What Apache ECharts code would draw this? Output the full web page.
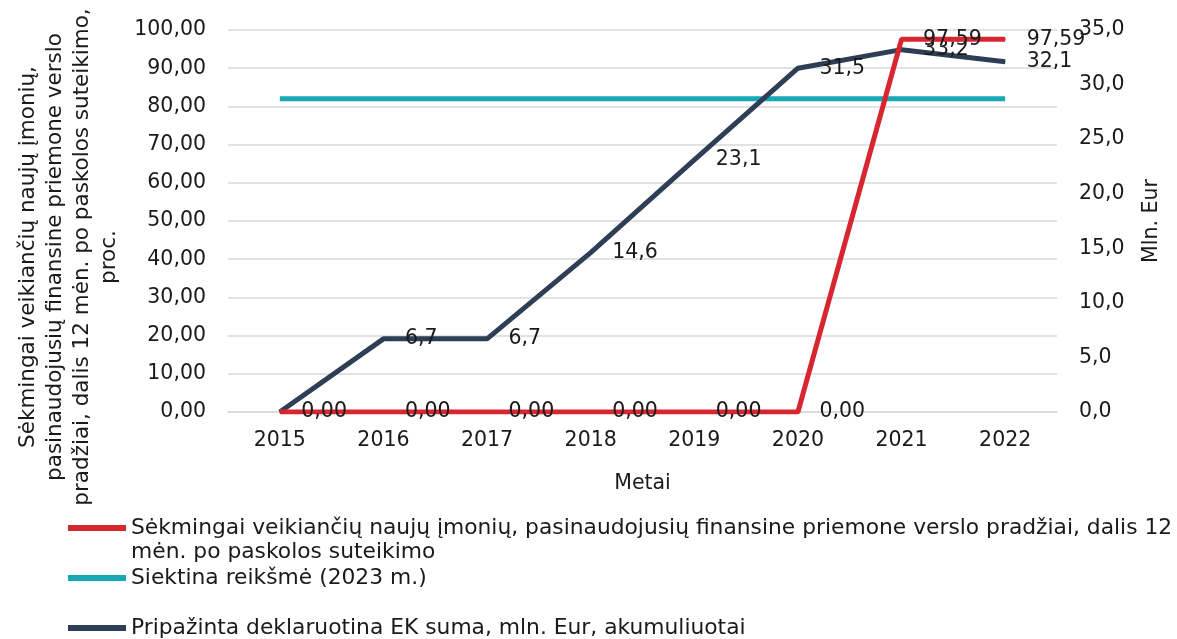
<!DOCTYPE html>
<html>
<head>
<meta charset="utf-8">
<script src="https://cdn.jsdelivr.net/npm/echarts@6/dist/echarts.min.js"></script>
<style>
html,body{margin:0;padding:0;background:#fff;}
#chart{width:1177px;height:639px;}
</style>
</head>
<body>
<div id="chart"></div>
<script>
const years = ['2015','2016','2017','2018','2019','2020','2021','2022'];
const sekmingai = [0, 0, 0, 0, 0, 0, 97.59, 97.59];
const siektina = [82, 82, 82, 82, 82, 82, 82, 82];
const pripazinta = [0, 6.7, 6.7, 14.6, 23.1, 31.5, 33.2, 32.1];

const nameRed = 'Sėkmingai veikiančių naujų įmonių, pasinaudojusių finansine priemone verslo pradžiai, dalis 12 mėn. po paskolos suteikimo';
const nameTeal = 'Siektina reikšmė (2023 m.)';
const nameDark = 'Pripažinta deklaruotina EK suma, mln. Eur, akumuliuotai';
const leftTitle = 'Sėkmingai veikiančių naujų įmonių,\npasinaudojusių finansine priemone verslo\npradžiai, dalis 12 mėn. po paskolos suteikimo,\nproc.';

const FONT = 'DejaVu Sans';
const TXT = '#1a1a1a';
const RED = '#d7262f', TEAL = '#17a8b3', DARK = '#2e3e56';
const FS = 20.5, FS_BIG = 21.5, FS_LEG = 21.8;

const comma = (v, d) => Number(v).toFixed(d).replace('.', ',');

const chart = echarts.init(document.getElementById('chart'));
const legendBase = {
  orient: 'vertical', left: 68, padding: 0,
  icon: 'rect', itemWidth: 58, itemHeight: 6,
  textStyle: {fontFamily: FONT, fontSize: FS_LEG, color: TXT, lineHeight: 24}
};
chart.setOption({
  animation: false,
  textStyle: {fontFamily: FONT},
  grid: {left: 228, right: 120, top: 30, bottom: 227, containLabel: false, outerBoundsMode: 'none'},
  legend: [
    Object.assign({}, legendBase, {top: 492, data: [nameRed],
      formatter: n => { const i = n.indexOf(' mėn.'); return ' \n' + n.slice(0, i) + '\n' + n.slice(i + 1); }}),
    Object.assign({}, legendBase, {top: 566, data: [nameTeal]}),
    Object.assign({}, legendBase, {top: 616, data: [nameDark]})
  ],
  xAxis: {
    type: 'category', data: years, boundaryGap: true,
    name: 'Metai', nameLocation: 'middle', nameGap: 61,
    nameTextStyle: {fontFamily: FONT, fontSize: FS, color: TXT},
    axisLine: {show: true, lineStyle: {color: '#d9d9d9', width: 1.5}},
    axisTick: {show: false},
    axisLabel: {margin: 18, fontFamily: FONT, fontSize: FS, color: TXT}
  },
  yAxis: [
    {
      type: 'value', min: 0, max: 100, interval: 10, position: 'left',
      name: leftTitle, nameLocation: 'middle', nameRotate: 90, nameGap: 105,
      nameTextStyle: {fontFamily: FONT, fontSize: FS_BIG, color: TXT, lineHeight: 27, align: 'center', padding: [0, 72, 0, 0]},
      axisLine: {show: false}, axisTick: {show: false},
      axisLabel: {margin: 22, fontFamily: FONT, fontSize: FS, color: TXT, formatter: v => comma(v, 2)},
      splitLine: {lineStyle: {color: '#d9d9d9', width: 1.5}}
    },
    {
      type: 'value', min: 0, max: 35, interval: 5, position: 'right',
      name: 'Mln. Eur', nameLocation: 'middle', nameRotate: 90, nameGap: 84,
      nameTextStyle: {fontFamily: FONT, fontSize: FS, color: TXT},
      axisLine: {show: false}, axisTick: {show: false},
      axisLabel: {margin: 22, fontFamily: FONT, fontSize: FS, color: TXT, formatter: v => comma(v, 1)},
      splitLine: {show: false}
    }
  ],
  series: [
    {
      name: nameRed, type: 'line', yAxisIndex: 0, data: sekmingai, z: 4,
      symbol: 'circle', symbolSize: 1, showSymbol: true,
      itemStyle: {color: RED},
      lineStyle: {color: RED, width: 5},
      label: {show: true, position: 'right', distance: 21, fontFamily: FONT, fontSize: FS, color: TXT,
        formatter: p => comma(p.value, 2)}
    },
    {
      name: nameTeal, type: 'line', yAxisIndex: 0, data: siektina, z: 2,
      symbol: 'none',
      itemStyle: {color: TEAL},
      lineStyle: {color: TEAL, width: 5}
    },
    {
      name: nameDark, type: 'line', yAxisIndex: 1, data: pripazinta, z: 3,
      symbol: 'circle', symbolSize: 1, showSymbol: true,
      itemStyle: {color: DARK},
      lineStyle: {color: DARK, width: 5},
      label: {show: true, position: 'right', distance: 21, fontFamily: FONT, fontSize: FS, color: TXT,
        formatter: p => (p.value === 0 ? '' : comma(p.value, 1))}
    }
  ]
});
</script>
</body>
</html>
